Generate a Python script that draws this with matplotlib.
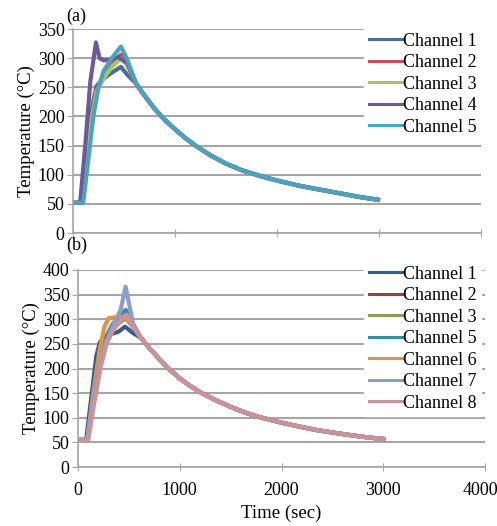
import matplotlib
matplotlib.use("Agg")
import matplotlib.pyplot as plt
import matplotlib.transforms as mtransforms
from matplotlib.lines import Line2D

plt.rcParams['font.family'] = 'serif'
plt.rcParams['font.serif'] = ['Liberation Serif', 'DejaVu Serif']

# (a) heating curves - rise part of each channel
a_ch1_t = [0, 80, 130, 180, 230, 300, 380, 470, 530]
a_ch1_T = [52, 52, 130, 210, 252, 265, 275, 285, 272]
a_ch2_t = [0, 80, 130, 180, 230, 300, 380, 470, 530]
a_ch2_T = [52, 52, 120, 195, 245, 268, 290, 306, 290]
a_ch3_t = [0, 80, 130, 180, 230, 300, 380, 470, 530]
a_ch3_T = [52, 52, 118, 192, 242, 265, 285, 300, 288]
a_ch4_t = [0, 70, 120, 170, 225, 260, 300, 380, 440, 530]
a_ch4_T = [52, 52, 150, 260, 327, 300, 296, 298, 302, 292]
a_ch5_t = [0, 100, 150, 200, 250, 300, 380, 470, 530]
a_ch5_T = [52, 52, 125, 200, 250, 278, 300, 320, 298]
# shared cooling tail (a)
a_tail_t = [620, 700, 800, 900, 1000, 1100, 1200, 1350, 1500, 1650, 1830,
            2000, 2220, 2400, 2620, 2800, 2990]
a_tail_T = [256, 236, 213, 194, 178, 163, 150, 133, 119, 108, 98,
            90, 81, 75, 68, 62, 57]

# (b) heating curves
b_ch1_t = [0, 80, 130, 180, 216, 300, 400, 462, 540]
b_ch1_T = [55, 55, 140, 225, 254, 268, 275, 285, 272]
b_ch2_t = [0, 90, 150, 210, 270, 340, 420, 470, 540]
b_ch2_T = [55, 55, 140, 215, 260, 285, 300, 308, 285]
b_ch3_t = [0, 90, 150, 210, 270, 340, 420, 470, 540]
b_ch3_T = [55, 55, 135, 210, 255, 280, 295, 302, 284]
b_ch5_t = [0, 90, 150, 210, 270, 340, 420, 470, 540]
b_ch5_T = [55, 55, 140, 215, 262, 290, 310, 319, 290]
b_ch6_t = [0, 90, 150, 210, 260, 300, 400, 460, 540]
b_ch6_T = [55, 55, 150, 235, 285, 302, 305, 305, 286]
b_ch7_t = [0, 90, 150, 210, 270, 340, 420, 468, 540]
b_ch7_T = [55, 55, 135, 205, 250, 285, 320, 366, 292]
b_ch8_t = [0, 100, 160, 220, 280, 350, 420, 478, 540]
b_ch8_T = [55, 55, 130, 200, 250, 280, 298, 309, 285]
b_tail_t = [620, 707, 800, 900, 1000, 1100, 1215, 1350, 1500, 1650, 1788,
            2000, 2200, 2345, 2500, 2700, 2850, 3000]
b_tail_T = [262, 240, 219, 198, 180, 165, 150, 136, 122, 110, 101,
            90, 81, 75, 70, 64, 60, 57]

a_series = [
    ('Channel 1', a_ch1_t, a_ch1_T, '#4a6c9e'),
    ('Channel 2', a_ch2_t, a_ch2_T, '#c05252'),
    ('Channel 3', a_ch3_t, a_ch3_T, '#a6c661'),
    ('Channel 4', a_ch4_t, a_ch4_T, '#6b5a9c'),
    ('Channel 5', a_ch5_t, a_ch5_T, '#4ba3bd'),
]
b_series = [
    ('Channel 1', b_ch1_t, b_ch1_T, '#3b5b8c'),
    ('Channel 2', b_ch2_t, b_ch2_T, '#a33c4a'),
    ('Channel 3', b_ch3_t, b_ch3_T, '#8c9c5c'),
    ('Channel 5', b_ch5_t, b_ch5_T, '#3b8ca3'),
    ('Channel 6', b_ch6_t, b_ch6_T, '#e39240'),
    ('Channel 7', b_ch7_t, b_ch7_T, '#8c9dcc'),
    ('Channel 8', b_ch8_t, b_ch8_T, '#cc9299'),
]

fig = plt.figure(figsize=(4.97, 5.26), dpi=100)
ax1 = fig.add_axes([73 / 497, 1 - 233 / 526, 408 / 497, 204 / 526])
ax2 = fig.add_axes([78 / 497, 1 - 467 / 526, 407 / 497, 197 / 526])

grid_c = '#a6a6a6'


def style(ax, ymax, show_x):
    ax.set_xlim(0, 4000)
    ax.set_ylim(0, ymax)
    ax.set_xticks(range(0, 4001, 1000))
    ax.set_yticks(range(0, ymax + 1, 50))
    ax.yaxis.grid(True, color=grid_c, linewidth=1.5)
    ax.set_axisbelow(True)
    for s in ['top', 'right']:
        ax.spines[s].set_visible(False)
    for s in ['left', 'bottom']:
        ax.spines[s].set_color(grid_c)
        ax.spines[s].set_linewidth(1.2)
    ax.tick_params(axis='x', direction='inout', length=6, color=grid_c,
                   labelsize=13, pad=8)
    ax.tick_params(axis='y', direction='out', length=4, color=grid_c,
                   labelsize=13, pad=2)
    if not show_x:
        ax.tick_params(axis='x', labelbottom=False)
    ax.set_ylabel('Temperature (°C)', fontsize=13.5, labelpad=2)


def draw(ax, series, tail_t, tail_T, anchor):
    handles = []
    for name, t, T, c in series:
        ax.plot(list(t) + tail_t, list(T) + tail_T, color=c, linewidth=3,
                solid_joinstyle='round')
        handles.append(Line2D([], [], color=c, linewidth=2.2, label=name))
    leg = fig.legend(handles=handles, loc='upper left', bbox_to_anchor=anchor,
                     frameon=True, fancybox=False, fontsize=13,
                     handlelength=1.9, handletextpad=0.0, labelspacing=0.25,
                     borderpad=0.25, borderaxespad=0)
    leg.get_frame().set_facecolor('white')
    leg.get_frame().set_edgecolor('white')
    leg.get_frame().set_alpha(1)


style(ax1, 350, False)
style(ax2, 400, True)
draw(ax1, a_series, a_tail_t, a_tail_T, (364 / 497, 1 - 28 / 526))
draw(ax2, b_series, b_tail_t, b_tail_T, (364 / 497, 1 - 261 / 526))

# keep the last x label inside the figure
fig.canvas.draw()
last = ax2.get_xticklabels()[-1]
last.set_transform(last.get_transform() +
                   mtransforms.ScaledTranslation(-5 / 100, 0, fig.dpi_scale_trans))

ax2.set_xlabel('Time (sec)', fontsize=13.5, labelpad=4)
fig.text(66 / 497, 1 - 16 / 526, '(a)', fontsize=13, va='center', ha='left')
fig.text(66 / 497, 1 - 245 / 526, '(b)', fontsize=13, va='center', ha='left')

fig.savefig('out.png', dpi=100)
